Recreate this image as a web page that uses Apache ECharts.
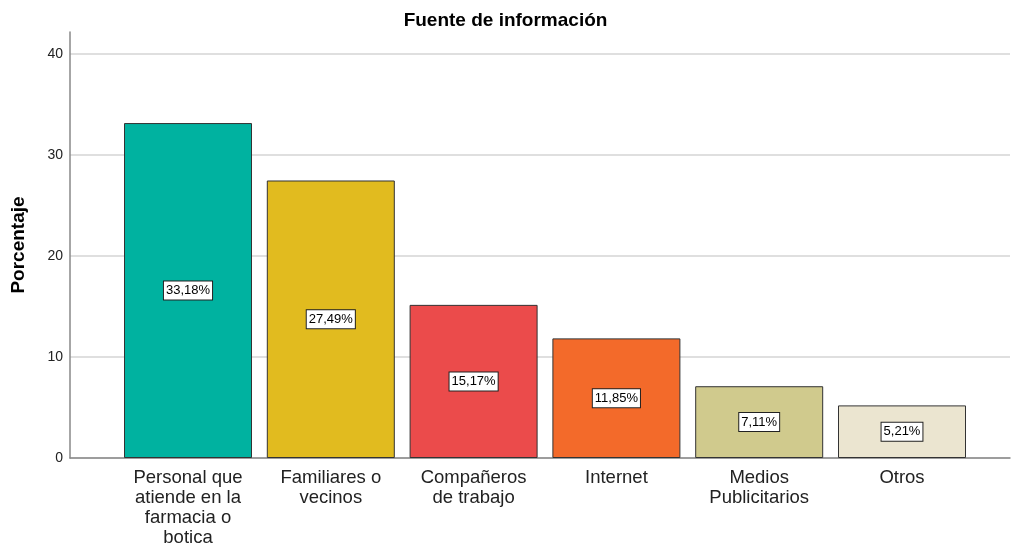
<!DOCTYPE html>
<html>
<head>
<meta charset="utf-8">
<script src="https://cdn.jsdelivr.net/npm/echarts@6/dist/echarts.min.js"></script>
<style>
  html, body { margin: 0; padding: 0; background: #fff; }
  #main { width: 1011px; height: 548px; }
</style>
</head>
<body>
<div id="main"></div>
<script>
// datos del grafico
var categorias = ['Personal que\natiende en la\nfarmacia o\nbotica', 'Familiares o\nvecinos', 'Compañeros\nde trabajo', 'Internet', 'Medios\nPublicitarios', 'Otros'];
var porcentajes = [33.18, 27.49, 15.17, 11.85, 7.11, 5.21];
var etiquetas = ['33,18%', '27,49%', '15,17%', '11,85%', '7,11%', '5,21%'];
var colores = ['#00b2a0', '#e1bb1f', '#eb4b4b', '#f36a2a', '#d0ca8d', '#ebe5d0'];
var yTicks = [0, 10, 20, 30, 40];

var chart = echarts.init(document.getElementById('main'));

var fuente = 'Liberation Sans, Arial, sans-serif';
var yMax = 42.2;

var option = {
  animation: false,
  title: {
    text: 'Fuente de información',
    left: 'center',
    top: 6,
    textStyle: { fontFamily: fuente, fontSize: 19, fontWeight: 'bold', color: '#000' }
  },
  grid: [
    // marco: eje y y lineas de referencia
    { left: 70, right: 1, top: 32, bottom: 90 },
    // barras
    { left: 116.6, right: 37.6, top: 32, bottom: 90 }
  ],
  xAxis: [
    {
      gridIndex: 0,
      type: 'value',
      min: 0, max: 1,
      axisLine: { show: true, lineStyle: { color: '#888', width: 1.5 } },
      axisTick: { show: false },
      axisLabel: { show: false },
      splitLine: { show: false }
    },
    {
      gridIndex: 1,
      type: 'category',
      data: categorias,
      axisLine: { show: false },
      axisTick: { show: false },
      axisLabel: {
        interval: 0,
        margin: 10,
        fontFamily: fuente,
        fontSize: 18.5,
        lineHeight: 20,
        color: '#222',
        align: 'center'
      }
    }
  ],
  yAxis: [
    {
      gridIndex: 0,
      type: 'value',
      min: 0,
      max: yMax,
      interval: 10,
      name: 'Porcentaje',
      nameLocation: 'middle',
      nameGap: 42,
      nameTextStyle: { fontFamily: fuente, fontSize: 19, fontWeight: 'bold', color: '#000' },
      axisLine: { show: true, lineStyle: { color: '#888', width: 1.5 } },
      axisTick: { show: false },
      axisLabel: {
        margin: 7,
        fontFamily: fuente,
        fontSize: 14,
        color: '#222',
        formatter: function (v) {
          return yTicks.indexOf(v) >= 0 ? String(v) : '';
        }
      },
      splitLine: {
        show: true,
        lineStyle: {
          width: 1.5,
          color: ['#d4d4d4', '#d4d4d4', '#d4d4d4', '#d4d4d4', '#d4d4d4', 'rgba(0,0,0,0)']
        }
      }
    },
    {
      gridIndex: 1,
      type: 'value',
      min: 0,
      max: yMax,
      show: false,
      splitLine: { show: false }
    }
  ],
  series: [{
    type: 'bar',
    xAxisIndex: 1,
    yAxisIndex: 1,
    barWidth: 128,
    z: 5,
    data: porcentajes.map(function (v, i) {
      return { value: v, itemStyle: { color: colores[i] } };
    }),
    itemStyle: { borderColor: '#333', borderWidth: 1 },
    label: {
      show: true,
      position: 'inside',
      formatter: function (p) { return etiquetas[p.dataIndex]; },
      fontFamily: fuente,
      fontSize: 13,
      color: '#000',
      backgroundColor: '#fff',
      borderColor: '#222',
      borderWidth: 1,
      padding: [3, 2, 2, 2]
    }
  }]
};

chart.setOption(option);
</script>
</body>
</html>
